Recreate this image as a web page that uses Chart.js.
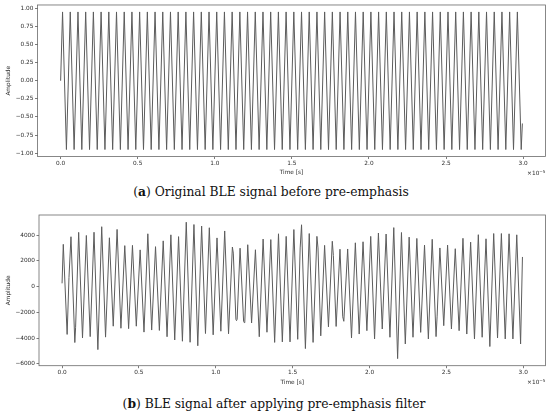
<!DOCTYPE html>
<html><head><meta charset="utf-8">
<script src="https://cdn.jsdelivr.net/npm/chart.js@4.4.1/dist/chart.umd.min.js"></script>
<style>
html,body{margin:0;padding:0;background:#fff;}
#wrap{position:relative;width:550px;height:416px;overflow:hidden;background:#fff;}
canvas{position:absolute;left:0;}
#cA{top:0;}
#cB{top:200px;}
.cap{position:absolute;width:550px;text-align:center;font-family:"DejaVu Serif";font-size:12.3px;line-height:16px;color:#111;white-space:nowrap;}
#capA{left:-4px;top:184px;}
#capB{left:-1px;top:396px;}
</style></head><body>
<div id="wrap">
<canvas id="cA" width="550" height="181"></canvas>
<div class="cap" id="capA">(<b>a</b>) Original BLE signal before pre-emphasis</div>
<canvas id="cB" width="550" height="191"></canvas>
<div class="cap" id="capB">(<b>b</b>) BLE signal after applying pre-emphasis filter</div>
</div>
<script>
// ---- (a) original signal: time in units of 1e-5 s, amplitude ----
const timeA = [0,
0.0125,0.0375,0.0625,0.0875,
0.1125,0.1375,0.1625,0.1875,
0.2125,0.2375,0.2625,0.2875,
0.3125,0.3375,0.3625,0.3875,
0.4125,0.4375,0.4625,0.4875,
0.5125,0.5375,0.5625,0.5875,
0.6125,0.6375,0.6625,0.6875,
0.7125,0.7375,0.7625,0.7875,
0.8125,0.8375,0.8625,0.8875,
0.9125,0.9375,0.9625,0.9875,
1.0125,1.0375,1.0625,1.0875,
1.1125,1.1375,1.1625,1.1875,
1.2125,1.2375,1.2625,1.2875,
1.3125,1.3375,1.3625,1.3875,
1.4125,1.4375,1.4625,1.4875,
1.5125,1.5375,1.5625,1.5875,
1.6125,1.6375,1.6625,1.6875,
1.7125,1.7375,1.7625,1.7875,
1.8125,1.8375,1.8625,1.8875,
1.9125,1.9375,1.9625,1.9875,
2.0125,2.0375,2.0625,2.0875,
2.1125,2.1375,2.1625,2.1875,
2.2125,2.2375,2.2625,2.2875,
2.3125,2.3375,2.3625,2.3875,
2.4125,2.4375,2.4625,2.4875,
2.5125,2.5375,2.5625,2.5875,
2.6125,2.6375,2.6625,2.6875,
2.7125,2.7375,2.7625,2.7875,
2.8125,2.8375,2.8625,2.8875,
2.9125,2.9375,2.9625,2.9875,
2.995];
const ampA = [0,
0.95,-0.95,0.95,-0.95,
0.95,-0.95,0.95,-0.95,
0.95,-0.95,0.95,-0.95,
0.95,-0.95,0.95,-0.95,
0.95,-0.95,0.95,-0.95,
0.95,-0.95,0.95,-0.95,
0.95,-0.95,0.95,-0.95,
0.95,-0.95,0.95,-0.95,
0.95,-0.95,0.95,-0.95,
0.95,-0.95,0.95,-0.95,
0.95,-0.95,0.95,-0.95,
0.95,-0.95,0.95,-0.95,
0.95,-0.95,0.95,-0.95,
0.95,-0.95,0.95,-0.95,
0.95,-0.95,0.95,-0.95,
0.95,-0.95,0.95,-0.95,
0.95,-0.95,0.95,-0.95,
0.95,-0.95,0.95,-0.95,
0.95,-0.95,0.95,-0.95,
0.95,-0.95,0.95,-0.95,
0.95,-0.95,0.95,-0.95,
0.95,-0.95,0.95,-0.95,
0.95,-0.95,0.95,-0.95,
0.95,-0.95,0.95,-0.95,
0.95,-0.95,0.95,-0.95,
0.95,-0.95,0.95,-0.95,
0.95,-0.95,0.95,-0.95,
0.95,-0.95,0.95,-0.95,
0.95,-0.95,0.95,-0.95,
0.95,-0.95,0.95,-0.95,
-0.59];

// ---- (b) after pre-emphasis ----
const timeB = [0,
0.008,0.033,0.045,
0.058,0.083,0.088,
0.108,0.133,
0.158,0.183,
0.208,0.233,
0.258,0.283,
0.308,0.333,
0.358,0.383,
0.408,0.433,
0.458,0.483,
0.508,0.533,
0.558,0.583,
0.608,0.633,
0.658,0.683,
0.708,0.733,
0.758,0.783,
0.808,0.833,
0.858,0.883,
0.908,0.933,
0.958,0.983,
1.008,1.033,
1.058,1.083,
1.108,1.114,1.131,1.135,1.139,
1.158,1.181,1.185,1.189,
1.208,1.233,
1.258,1.283,
1.308,1.333,
1.358,1.383,
1.408,1.433,
1.458,1.483,
1.508,1.533,
1.549,1.558,1.583,
1.608,1.633,
1.658,1.665,1.683,
1.708,1.733,
1.758,1.765,1.783,
1.808,1.826,1.833,
1.858,1.883,
1.908,1.933,
1.958,1.983,
2.008,2.033,
2.058,2.083,
2.108,2.133,
2.158,2.183,
2.208,2.233,
2.258,2.283,
2.308,2.333,
2.358,2.383,
2.408,2.433,2.440,
2.458,2.483,
2.508,2.533,
2.558,2.583,
2.608,2.633,
2.658,2.683,
2.708,2.733,
2.758,2.783,
2.808,2.833,
2.858,2.883,
2.908,2.933,
2.958,2.983,
2.995];
const ampB = [250,
3280,-3720,700,
3870,-4350,-3200,
4210,-4000,
3970,-3890,
4220,-4900,
4650,-3930,
3790,-3080,
4440,-3240,
3180,-3270,
3200,-3080,
2850,-3540,
4100,-3380,
3100,-3410,
3550,-3900,
4020,-4150,
3880,-4250,
5000,-4330,
4820,-4600,
4700,-3650,
4570,-3750,
3780,-3470,
4320,-3670,
3070,2600,-2560,-2650,-2540,
2980,-2700,-2800,-2680,
3250,-2830,
2860,-3900,
3690,-3550,
3650,-4340,
4100,-4300,
3900,-4300,
4430,-4100,
3000,4800,-4820,
4120,-4340,
3900,3000,-3830,
3200,-3130,
3520,2400,-3100,
2900,-2350,-2700,
2920,-4000,
3400,-3690,
3480,-3430,
3900,-4070,
4160,-3300,
4080,-3940,
4580,-5600,
4200,-4460,
3840,-3940,
3740,-3560,
3220,-4070,
3670,-3890,-2300,
3000,-3040,
3220,-3300,
2940,-3430,
3750,-3690,
3450,-4070,
4030,-3940,
3710,-4660,
4120,-4000,
4120,-4070,
4100,-4070,
4020,-4460,
2300];

const xTicks = [0, 0.5, 1.0, 1.5, 2.0, 2.5, 3.0];
const yTicksA = [-1.0, -0.75, -0.5, -0.25, 0, 0.25, 0.5, 0.75, 1.0];
const yTicksB = [-6000, -4000, -2000, 0, 2000, 4000];

const MINUS = '\u2212';
const TICK_FONT = {family: 'DejaVu Sans', size: 5.8};
const TXT = '#2b2b2b';

const framePlugin = {
  id: 'frameBox',
  afterDraw(chart) {
    const {ctx, chartArea: a} = chart;
    ctx.save();
    ctx.strokeStyle = '#6a6a6a';
    ctx.lineWidth = 0.8;
    ctx.strokeRect(a.left, a.top, a.right - a.left, a.bottom - a.top);
    // offset text x10^-5
    ctx.fillStyle = TXT;
    ctx.textAlign = 'right';
    ctx.textBaseline = 'alphabetic';
    const sup = MINUS + '5';
    ctx.font = '4.2px "DejaVu Sans"';
    const supW = ctx.measureText(sup).width;
    const y = a.bottom + 18.4;
    ctx.fillText(sup, a.right, y - 2.4);
    ctx.font = '5.8px "DejaVu Sans"';
    ctx.fillText('\u00d710', a.right - supW, y);
    ctx.restore();
  }
};

function makeChart(id, times, amps, cfg) {
  const pts = times.map((t, i) => ({x: t, y: amps[i]}));
  return new Chart(document.getElementById(id), {
    type: 'line',
    data: {datasets: [{
      data: pts,
      borderColor: '#5c5c5c',
      borderWidth: 1,
      borderJoinStyle: 'round',
      pointRadius: 0,
      tension: 0,
      fill: false
    }]},
    plugins: [framePlugin],
    options: {
      responsive: false,
      animation: false,
      parsing: false,
      layout: {padding: {top: cfg.top, right: cfg.right, left: 0, bottom: 0}},
      plugins: {legend: {display: false}, tooltip: {enabled: false}},
      scales: {
        x: {
          type: 'linear',
          min: -0.15, max: 3.145,
          afterBuildTicks: ax => { ax.ticks = xTicks.map(v => ({value: v})); },
          afterFit: s => { s.height = cfg.xh; },
          ticks: {font: TICK_FONT, color: TXT, padding: 1.2, maxRotation: 0, autoSkip: false,
                  callback: v => v.toFixed(1)},
          grid: {display: true, drawOnChartArea: false, drawTicks: true, tickLength: 2.5, color: '#444', lineWidth: 0.7},
          border: {display: false},
          title: {display: true, text: 'Time [s]', font: TICK_FONT, color: TXT, padding: {top: 0, bottom: 4.8}}
        },
        y: {
          type: 'linear',
          min: cfg.ymin, max: cfg.ymax,
          afterBuildTicks: ax => { ax.ticks = cfg.yTicks.map(v => ({value: v})); },
          afterFit: s => { s.width = cfg.yw; },
          ticks: {font: TICK_FONT, color: TXT, padding: 1.5, autoSkip: false, callback: cfg.fmt},
          grid: {display: true, drawOnChartArea: false, drawTicks: true, tickLength: 2.5, color: '#444', lineWidth: 0.7},
          border: {display: false},
          title: {display: true, text: 'Amplitude', font: TICK_FONT, color: TXT, padding: {top: 4.8, bottom: 0}}
        }
      }
    }
  });
}

makeChart('cA', timeA, ampA, {
  top: 4.7, right: 4.5, xh: 24.5, yw: 37.5,
  ymin: -1.046, ymax: 1.046, yTicks: yTicksA,
  fmt: v => (v < 0 ? MINUS : '') + Math.abs(v).toFixed(2)
});
makeChart('cB', timeB, ampB, {
  top: 15, right: 4.5, xh: 25.3, yw: 39,
  ymin: -6150, ymax: 5560, yTicks: yTicksB,
  fmt: v => (v < 0 ? MINUS : '') + Math.abs(v).toFixed(0)
});
</script>
</body></html>
